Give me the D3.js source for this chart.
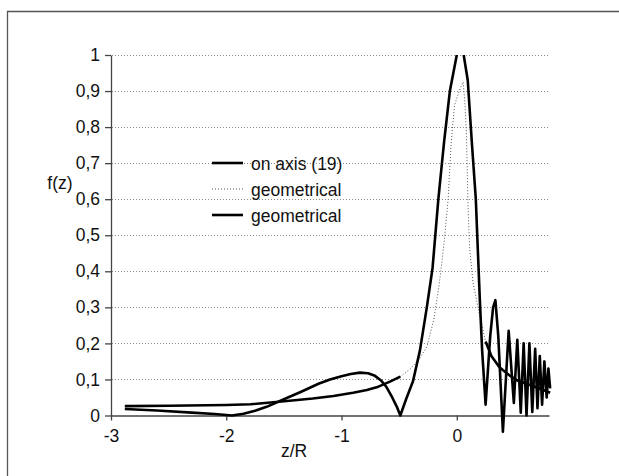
<!DOCTYPE html>
<html>
<head>
<meta charset="utf-8">
<script src="https://cdn.jsdelivr.net/npm/d3@7/dist/d3.min.js"></script>
<style>
  html, body { margin: 0; padding: 0; background: #fff; }
  svg text { font-family: "Liberation Sans", Arial, sans-serif; fill: #111; }
</style>
</head>
<body>
<svg id="chart" width="619" height="476"></svg>
<script>

// f(z) on axis
const onAxis = [
  [-2.88, 0.018], [-2.6, 0.014], [-2.3, 0.008], [-2.1, 0.004], [-1.95, 0.0],
  [-1.85, 0.005], [-1.75, 0.013], [-1.65, 0.024], [-1.5, 0.045], [-1.35, 0.066],
  [-1.2, 0.088], [-1.1, 0.1], [-1.0, 0.109], [-0.92, 0.115], [-0.84, 0.119],
  [-0.77, 0.117], [-0.71, 0.11], [-0.66, 0.098], [-0.61, 0.079], [-0.56, 0.05],
  [-0.52, 0.024], [-0.49, 0.0], [-0.44, 0.045], [-0.38, 0.095],
  [-0.32, 0.18], [-0.26, 0.30], [-0.21, 0.41], [-0.16, 0.60], [-0.11, 0.76],
  [-0.06, 0.90], [0.0, 1.0], [0.03, 1.03], [0.06, 1.0], [0.095, 0.93],
  [0.13, 0.76], [0.165, 0.60], [0.2, 0.32], [0.22, 0.18], [0.25, 0.03],
  [0.29, 0.22], [0.315, 0.3], [0.335, 0.32], [0.36, 0.22], [0.40, -0.045],
  [0.45, 0.235], [0.495, 0.035], [0.525, 0.21], [0.555, 0.008], [0.58, 0.20],
  [0.605, 0.0], [0.63, 0.20], [0.655, 0.01], [0.68, 0.185], [0.70, 0.02],
  [0.72, 0.165], [0.74, 0.03], [0.76, 0.15], [0.78, 0.05], [0.795, 0.13],
  [0.81, 0.075]
];

// geometrical, solid parts
const geomLeft = [
  [-2.88, 0.026], [-2.5, 0.027], [-2.0, 0.029], [-1.79, 0.031], [-1.45, 0.041],
  [-1.25, 0.047], [-1.07, 0.054], [-0.9, 0.063], [-0.78, 0.071], [-0.68, 0.08],
  [-0.58, 0.094], [-0.49, 0.108]
];
const geomRight = [
  [0.25, 0.205], [0.3, 0.165], [0.37, 0.134], [0.45, 0.113], [0.52, 0.098],
  [0.6, 0.089], [0.66, 0.082], [0.74, 0.072], [0.81, 0.063]
];

// geometrical, dotted part
const geomDotted = [
  [-0.49, 0.108], [-0.4, 0.13], [-0.33, 0.155], [-0.26, 0.19], [-0.2, 0.265],
  [-0.15, 0.37], [-0.11, 0.48], [-0.075, 0.6], [-0.05, 0.75], [-0.02, 0.86],
  [0.02, 0.9], [0.055, 0.925], [0.07, 0.87], [0.084, 0.78], [0.096, 0.6],
  [0.11, 0.47], [0.14, 0.37], [0.2, 0.274], [0.25, 0.205]
];

const xTicks = [-3, -2, -1, 0];
const yTicks = [0, 0.1, 0.2, 0.3, 0.4, 0.5, 0.6, 0.7, 0.8, 0.9, 1];
const legendLabels = ["on axis (19)", "geometrical", "geometrical"];

const svg = d3.select('#chart');

// outer frame, only its top and left edges fall inside the picture
svg.append('path')
  .attr('d', 'M7.5,476V11.5H619')
  .attr('fill', 'none').attr('stroke', '#555').attr('stroke-width', 1.3);

const x = d3.scaleLinear().domain([-3, 0.8]).range([111, 549]);
const y = d3.scaleLinear().domain([0, 1]).range([415.5, 55]);

const comma = d => String(d).replace('.', ',');

// gridlines
svg.append('g')
  .selectAll('line')
  .data(yTicks.filter(d => d > 0))
  .join('line')
  .attr('x1', x(-3) + 1).attr('x2', x(0.8))
  .attr('y1', d => Math.round(y(d)) + 0.5).attr('y2', d => Math.round(y(d)) + 0.5)
  .attr('stroke', '#8a8a8a').attr('stroke-width', 1)
  .attr('stroke-dasharray', '1,2');

// y axis
const yAxis = svg.append('g')
  .attr('transform', 'translate(' + x(-3) + ',0)')
  .call(d3.axisLeft(y).tickValues(yTicks).tickFormat(comma).tickSize(6).tickSizeOuter(0).tickPadding(5));

// x axis
const xAxis = svg.append('g')
  .attr('transform', 'translate(0,' + y(0) + ')')
  .call(d3.axisBottom(x).tickValues(xTicks).tickFormat(d3.format('d')).tickSize(5).tickSizeOuter(0).tickPadding(9));

[yAxis, xAxis].forEach(function (g) {
  g.select('.domain').attr('stroke', '#444').attr('stroke-width', 1.3);
  g.selectAll('.tick line').attr('stroke', '#444').attr('stroke-width', 1.3);
  g.selectAll('.tick text').attr('font-size', 17.5).attr('fill', '#111');
});
xAxis.selectAll('.tick text').text(d => d < 0 ? '-' + Math.abs(d) : d);

// axis titles
svg.append('text').attr('x', 294).attr('y', 457)
  .attr('text-anchor', 'middle').attr('font-size', 17.5).text('z/R');
svg.append('text').attr('x', 60).attr('y', 189)
  .attr('text-anchor', 'middle').attr('font-size', 17.5).text('f(z)');

// clip the peak at the top of the plot
svg.append('clipPath').attr('id', 'plot-clip')
  .append('rect').attr('x', 100).attr('y', y(1)).attr('width', 470).attr('height', 400);

const line = d3.line().x(d => x(d[0])).y(d => y(d[1]));
const curves = svg.append('g').attr('clip-path', 'url(#plot-clip)');

curves.append('path').datum(geomDotted)
  .attr('d', line).attr('fill', 'none')
  .attr('stroke', '#555').attr('stroke-width', 1).attr('stroke-dasharray', '1,2');

[geomLeft, geomRight].forEach(function (part) {
  curves.append('path').datum(part)
    .attr('d', line).attr('fill', 'none')
    .attr('stroke', '#000').attr('stroke-width', 2.6).attr('stroke-linejoin', 'round');
});

curves.append('path').datum(onAxis)
  .attr('d', line).attr('fill', 'none')
  .attr('stroke', '#000').attr('stroke-width', 2.6).attr('stroke-linejoin', 'round');

// legend
const legendY = [163, 189, 215];
const legend = svg.append('g');
legendLabels.forEach(function (label, i) {
  legend.append('line')
    .attr('x1', 212).attr('x2', 243)
    .attr('y1', legendY[i]).attr('y2', legendY[i])
    .attr('stroke', i === 1 ? '#555' : '#000')
    .attr('stroke-width', i === 1 ? 1 : 2.6)
    .attr('stroke-dasharray', i === 1 ? '1,2' : null);
  legend.append('text')
    .attr('x', 251).attr('y', legendY[i] + 6.5)
    .attr('font-size', 17.5).text(label);
});

</script>
</body>
</html>
